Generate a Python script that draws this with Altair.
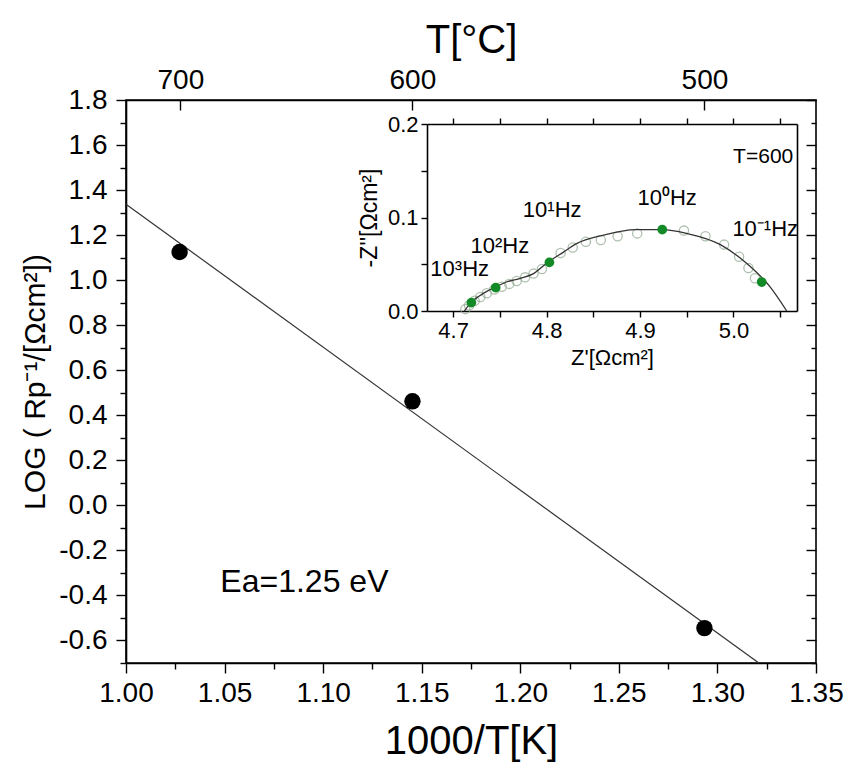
import altair as alt
import pandas as pd

# ---------------- data ----------------
# main Arrhenius plot
pts_x = [1.0272, 1.1453, 1.2934]
pts_y = [1.125, 0.462, -0.545]
fit_x = [1.000, 1.321]
fit_y = [1.337, -0.700]
temps_c = [700, 600, 500]

x_major = [1.00, 1.05, 1.10, 1.15, 1.20, 1.25, 1.30, 1.35]
x_minor = [1.025, 1.075, 1.125, 1.175, 1.225, 1.275, 1.325]
y_major = [-0.6, -0.4, -0.2, 0.0, 0.2, 0.4, 0.6, 0.8, 1.0, 1.2, 1.4, 1.6, 1.8]
y_minor = [-0.7, -0.5, -0.3, -0.1, 0.1, 0.3, 0.5, 0.7, 0.9, 1.1, 1.3, 1.5, 1.7]

# inset impedance spectrum (T = 600)
open_x = [4.713, 4.717, 4.723, 4.729, 4.736, 4.744, 4.752, 4.760, 4.768, 4.777,
          4.786, 4.795, 4.815, 4.828, 4.842, 4.858, 4.876, 4.897, 4.947,
          4.970, 4.990, 5.006, 5.016, 5.023]
open_y = [0.002, 0.006, 0.011, 0.015, 0.019, 0.023, 0.026, 0.029, 0.032, 0.036,
          0.040, 0.045, 0.062, 0.068, 0.074, 0.076, 0.080, 0.083, 0.086,
          0.080, 0.071, 0.058, 0.046, 0.035]
dec_x = [4.7195, 4.7455, 4.8030, 4.9238, 5.0302]
dec_y = [0.009, 0.025, 0.052, 0.087, 0.031]
curve_x = [4.712, 4.720, 4.728, 4.736, 4.746, 4.757, 4.772, 4.786, 4.800, 4.818,
           4.832, 4.860, 4.896, 4.924, 4.950, 4.986, 5.014, 5.039, 5.057]
curve_y = [0.000, 0.010, 0.016, 0.021, 0.026, 0.031, 0.035, 0.040, 0.051, 0.063,
           0.072, 0.081, 0.087, 0.087, 0.083, 0.071, 0.051, 0.026, 0.000]
freq_labels = ["10\u00b3Hz", "10\u00b2Hz", "10\u00b9Hz", "10\u2070Hz", "10\u207b\u00b9Hz"]
freq_lx = [4.707, 4.750, 4.806, 4.929, 5.034]
freq_ly = [0.045, 0.069, 0.108, 0.121, 0.088]
ins_x_ticks = [4.70, 4.75, 4.80, 4.85, 4.90, 4.95, 5.00, 5.05]
ins_y_ticks = [0.0, 0.05, 0.1, 0.15, 0.2]

FONT = "Liberation Sans"
W, H = 690, 563

main_x = alt.Scale(domain=[1.0, 1.35], nice=False, zero=False)
main_y = alt.Scale(domain=[-0.7, 1.8], nice=False, zero=False)
ins_xs = alt.Scale(domain=[4.672, 5.068], range=[301, 671], nice=False, zero=False)
ins_ys = alt.Scale(domain=[0.0, 0.2], range=[211, 24], nice=False, zero=False)

df_fit = pd.DataFrame({"x": fit_x, "y": fit_y})
df_pts = pd.DataFrame({"x": pts_x, "y": pts_y})
df_T = pd.DataFrame({"T": temps_c})
inv_T = [1000.0 / (t + 273.15) for t in temps_c]
df_open = pd.DataFrame({"x": open_x, "y": open_y})
df_dec = pd.DataFrame({"x": dec_x, "y": dec_y})
df_curve = pd.DataFrame({"x": curve_x, "y": curve_y})
df_freq = pd.DataFrame({"x": freq_lx, "y": freq_ly, "t": freq_labels})

HYPHEN_1F = "replace(format(datum.value, '.1f'), '\u2212', '-')"
INSET_LBL = ("abs(datum.value * 10 - round(datum.value * 10)) < 0.01 ? "
             "format(datum.value, '.1f') : ''")

# ---------- main plot ----------
main_line = alt.Chart(df_fit).mark_line(color="#333333", strokeWidth=1.2).encode(
    x=alt.X("x:Q", scale=main_x, axis=alt.Axis(
        orient="bottom", values=x_major, format=".2f", tickSize=10, labelFontSize=28,
        labelPadding=6, labelFlush=False, labelOverlap=False,
        title="1000/T[K]", titleFontSize=40, titlePadding=14)),
    y=alt.Y("y:Q", scale=main_y, axis=alt.Axis(
        orient="left", values=y_major, labelExpr=HYPHEN_1F, tickSize=10, labelFontSize=28,
        labelPadding=9, labelFlush=False, labelOverlap=False,
        title="LOG ( Rp\u207b\u00b9/[\u03a9cm\u00b2])", titleFontSize=30,
        titlePadding=8)),
)
main_minor = alt.Chart(df_fit).mark_line(opacity=0).encode(
    x=alt.X("x:Q", scale=main_x, axis=alt.Axis(
        orient="bottom", values=x_minor, labels=False, tickSize=6, domain=False, title=None)),
    y=alt.Y("y:Q", scale=main_y, axis=alt.Axis(
        orient="left", values=y_minor, labels=False, tickSize=6, domain=False, title=None)),
)
main_pts = alt.Chart(df_pts).mark_circle(color="black", size=270, opacity=1).encode(
    x=alt.X("x:Q", scale=main_x, axis=None),
    y=alt.Y("y:Q", scale=main_y, axis=None),
)
top_axis = alt.Chart(df_T).transform_calculate(
    inv="1000 / (datum.T + 273.15)"
).mark_point(opacity=0).encode(
    x=alt.X("inv:Q", scale=main_x, axis=alt.Axis(
        orient="top", values=inv_T, labelExpr="format(1000 / datum.value - 273.15, '.0f')",
        ticks=False, domain=True, labelFontSize=28, labelPadding=6,
        labelFlush=False, labelOverlap=False,
        title="T[\u00b0C]", titleFontSize=40, titlePadding=6)),
    y=alt.value(0),
)
inward_major = alt.Chart(df_fit).mark_line(opacity=0).encode(
    x=alt.X("x:Q", scale=main_x, axis=alt.Axis(
        orient="bottom", offset=-H, values=inv_T, labels=False, tickSize=10,
        domain=False, title=None)),
    y=alt.Y("y:Q", scale=main_y, axis=alt.Axis(
        orient="left", offset=-W, values=y_major, labels=False, tickSize=10,
        domain=False, title=None)),
)
inward_minor = alt.Chart(df_fit).mark_line(opacity=0).encode(
    x=alt.X("x:Q", scale=main_x, axis=None),
    y=alt.Y("y:Q", scale=main_y, axis=alt.Axis(
        orient="left", offset=-W, values=y_minor, labels=False, tickSize=5,
        domain=False, title=None)),
)
ea_text = alt.Chart(pd.DataFrame({"x": [1.0905], "y": [-0.34], "t": ["Ea=1.25 eV"]})).mark_text(
    font=FONT, fontSize=32, color="black", align="center", baseline="middle"
).encode(
    x=alt.X("x:Q", scale=main_x, axis=None),
    y=alt.Y("y:Q", scale=main_y, axis=None),
    text="t:N",
)

# ---------- inset ----------
ins_open = alt.Chart(df_open).mark_point(
    shape="circle", filled=False, color="#8fa88f", size=85, strokeWidth=1.3
).encode(
    x=alt.X("x:Q", scale=ins_xs, axis=None),
    y=alt.Y("y:Q", scale=ins_ys, axis=None),
)
ins_curve = alt.Chart(df_curve).mark_line(
    color="#333333", strokeWidth=1.3, interpolate="monotone"
).encode(
    x=alt.X("x:Q", scale=ins_xs, axis=alt.Axis(
        orient="bottom", offset=-(H - 211), values=ins_x_ticks, labelExpr=INSET_LBL,
        tickSize=6, labelFontSize=22, labelPadding=3, labelFlush=False, labelOverlap=False,
        title="Z'[\u03a9cm\u00b2]", titleFontSize=22, titlePadding=6)),
    y=alt.Y("y:Q", scale=ins_ys, axis=alt.Axis(
        orient="left", offset=-301, values=ins_y_ticks, labelExpr=INSET_LBL,
        tickSize=6, labelFontSize=22, labelPadding=3, labelFlush=False, labelOverlap=False,
        title="-Z''[\u03a9cm\u00b2]", titleFontSize=23, titlePadding=6)),
)
ins_frame = alt.Chart(df_curve).mark_line(opacity=0).encode(
    x=alt.X("x:Q", scale=ins_xs, axis=alt.Axis(
        orient="top", offset=-24, values=ins_x_ticks, labels=False, tickSize=6, title=None)),
    y=alt.Y("y:Q", scale=ins_ys, axis=alt.Axis(
        orient="right", offset=-(W - 671), ticks=False, labels=False, title=None)),
)
ins_dec = alt.Chart(df_dec).mark_circle(color="#128a26", size=95, opacity=1).encode(
    x=alt.X("x:Q", scale=ins_xs, axis=None),
    y=alt.Y("y:Q", scale=ins_ys, axis=None),
)
ins_text = alt.Chart(df_freq).mark_text(
    font=FONT, fontSize=22, color="black", align="center", baseline="middle"
).encode(
    x=alt.X("x:Q", scale=ins_xs, axis=None),
    y=alt.Y("y:Q", scale=ins_ys, axis=None),
    text="t:N",
)
ins_T = alt.Chart(pd.DataFrame({"x": [5.064], "y": [0.165], "t": ["T=600"]})).mark_text(
    font=FONT, fontSize=21, color="black", align="right", baseline="middle"
).encode(
    x=alt.X("x:Q", scale=ins_xs, axis=None),
    y=alt.Y("y:Q", scale=ins_ys, axis=None),
    text="t:N",
)

chart = alt.layer(
    main_line, main_minor, main_pts, top_axis, inward_major, inward_minor, ea_text,
    ins_open, ins_curve, ins_frame, ins_dec, ins_text, ins_T,
).resolve_scale(
    x="independent", y="independent"
).properties(
    width=W, height=H,
    autosize=alt.AutoSizeParams(type="none"),
    padding={"left": 118, "top": 92, "right": 29, "bottom": 103},
).configure_axis(
    labelFont=FONT, titleFont=FONT, labelColor="black", titleColor="black",
    tickColor="black", domainColor="black", domainWidth=1.6, tickWidth=1.4,
    titleFontWeight="normal", grid=False,
).configure_view(
    stroke="black", strokeWidth=1.6,
)

chart.save("out.html", embed_options={"renderer": "svg", "actions": False})
